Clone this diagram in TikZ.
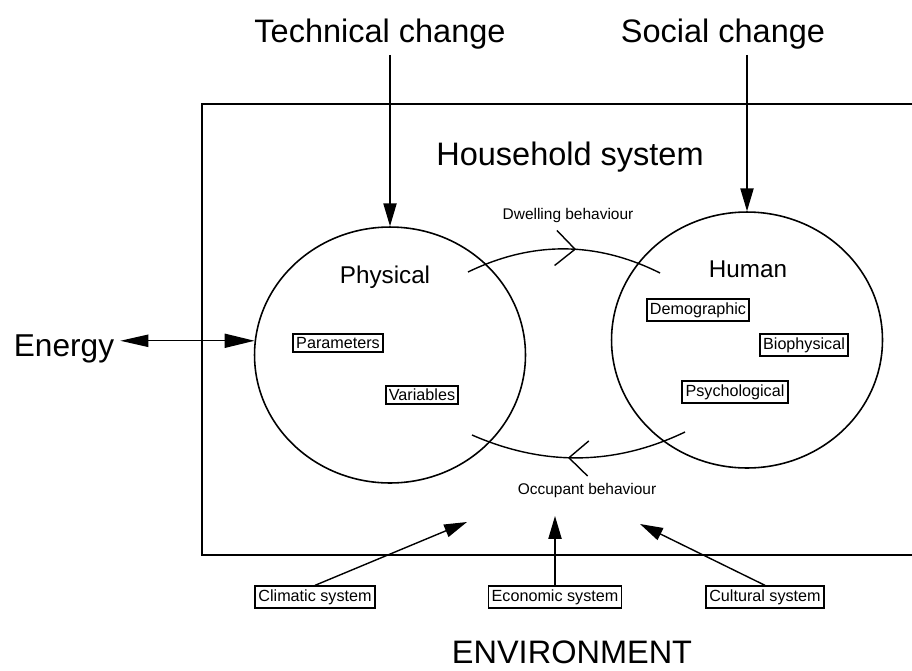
\documentclass[tikz,border=0pt]{standalone}
\usepackage{fontspec}
\setmainfont{Liberation Sans}
\usetikzlibrary{arrows.meta,calc,shapes.geometric,decorations.markings,positioning}

\tikzset{
  big/.style={anchor=base, font=\fontsize{18.5}{22}\selectfont},
  mid/.style={anchor=base, font=\fontsize{13.8}{16}\selectfont},
  small/.style={font=\fontsize{8.8}{10}\selectfont},
  part/.style={draw, ellipse, line width=0.9pt, inner sep=0pt, minimum width=5.42cm, minimum height=5.12cm},
  lbl/.style={draw, line width=1.1pt, inner sep=1.8pt, font=\fontsize{9.2}{11}\selectfont},
  arr/.style={-{Triangle[length=13pt,width=7.5pt]}, line width=0.8pt},
  chev/.style={postaction={decorate}, decoration={markings, mark=at position #1 with {\arrow{Straight Barb[length=11pt,width=20pt]}}}}
}

\begin{document}
\begin{tikzpicture}[x=0.02cm, y=-0.02cm]
    \useasboundingbox (0,0) rectangle (912,670);

      \draw[line width=0.9pt] (912,104) -- (202,104) -- (202,555) -- (912,555);

      \node(tech) at (380,42) [big] {Technical change};
      \node(soc) at (723,42) [big] {Social change};
      \node(hh) at (570,165) [big] {Household system};
      \node(env) at (572,663) [big, inner sep=1pt] {ENVIRONMENT};
      \node(energy) at (64,356) [big, font=\fontsize{18}{21}\selectfont] {Energy};

      \node(phys) at (390,355) [part] {};
      \node(hum) at (747,340) [part] {};
      \node(physt) at (385,283) [mid] {Physical};
      \node(humt) at (748,277) [mid] {Human};

      \node(par) at (338,343) [lbl] {Parameters};
      \node(var) at (422,395) [lbl] {Variables};
      \node(dem) at (698,310) [lbl] {Demographic};
      \node(bio) at (804,345) [lbl] {Biophysical};
      \node(psy) at (735,392) [lbl] {Psychological};

      \node(clim) at (315,597) [lbl] {Climatic system};
      \node(econ) at (555,597) [lbl] {Economic system};
      \node(cult) at (765,597) [lbl] {Cultural system};

      \node(dw) at (568,215) [small] {Dwelling behaviour};
      \node(oc) at (587,490) [small] {Occupant behaviour};

      \coordinate(dw1) at (468,272);
      \coordinate(dw2) at (660,273);
      \coordinate(oc1) at (685,432);
      \coordinate(oc2) at (472,435);
      \coordinate(c1) at (467,522);
      \coordinate(e1) at (555,516);
      \coordinate(k1) at (640,524);

      \draw[line width=0.8pt, chev=0.56] (dw1) .. controls (532,241) and (596,241) .. (dw2);
      \draw[line width=0.8pt, chev=0.55] (oc1) .. controls (614,466) and (543,466) .. (oc2);

      \draw (tech.south -| phys.north) edge[arr] (phys.north);
      \draw (soc.south -| hum.north) edge[arr] (hum.north);
      \draw (energy.east |- phys.174) edge[{Triangle[length=16pt,width=7pt]}-{Triangle[length=17pt,width=8pt]}, line width=0.8pt] (phys.174);

      \draw (clim.north) edge[arr] (c1);
      \draw (econ.north) edge[arr] (e1);
      \draw (cult.north) edge[arr] (k1);
\end{tikzpicture}
\end{document}
